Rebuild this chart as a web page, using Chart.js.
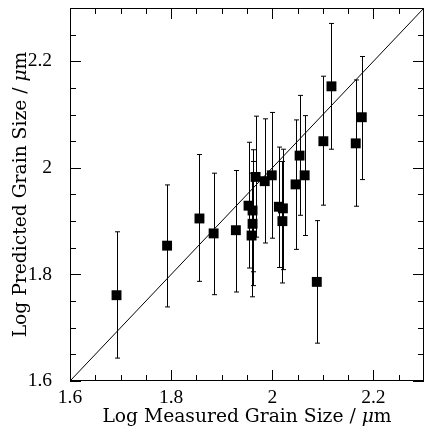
<!DOCTYPE html>
<html>
<head>
<meta charset="utf-8">
<script src="https://cdn.jsdelivr.net/npm/chart.js@4/dist/chart.umd.min.js"></script>
<style>
  html, body { margin: 0; padding: 0; background: #fff; overflow: hidden; }
  canvas { display: block; }
</style>
</head>
<body>
<canvas id="grainChart" width="424" height="428" style="width:424px;height:428px"></canvas>
<script>
// log grain sizes
const measured  = [1.692, 1.792, 1.856, 1.884, 1.928, 1.953, 1.961, 1.961, 1.959, 1.967, 1.985, 1.999, 2.013, 2.021, 2.020, 2.046, 2.054, 2.064, 2.088, 2.101, 2.117, 2.165, 2.177];
const predicted = [1.761, 1.854, 1.905, 1.877, 1.883, 1.929, 1.920, 1.895, 1.873, 1.983, 1.975, 1.986, 1.927, 1.924, 1.900, 1.969, 2.023, 1.986, 1.786, 2.050, 2.153, 2.046, 2.095];
const upperErr  = [1.880, 1.968, 2.025, 1.990, 1.995, 2.048, 2.034, 2.012, 1.990, 2.097, 2.092, 2.104, 2.039, 2.035, 2.012, 2.090, 2.136, 2.098, 1.901, 2.172, 2.271, 2.165, 2.209];
const lowerErr  = [1.643, 1.739, 1.787, 1.762, 1.767, 1.812, 1.805, 1.779, 1.758, 1.870, 1.859, 1.868, 1.813, 1.809, 1.784, 1.847, 1.911, 1.873, 1.671, 1.930, 2.035, 1.928, 1.978];

const oneToOne = [1.6, 2.3];
const majorTicks = [1.6, 1.8, 2.0, 2.2];
const tickLabels = ['1.6', '1.8', '2', '2.2'];
const minorStep = 0.05;
const axisMin = 1.6, axisMax = 2.3;

const TITLE_FONT = '"DejaVu Serif", serif';
const TICK_FONT = '19.5px "Liberation Serif", serif';

const points = measured.map((x, i) => ({ x: x, y: predicted[i] }));
const diag = oneToOne.map(v => ({ x: v, y: v }));

// vertical error bars under the squares
const errorBars = {
  id: 'errorBars',
  beforeDatasetsDraw(chart) {
    const ctx = chart.ctx, xs = chart.scales.x, ys = chart.scales.y;
    ctx.save();
    ctx.strokeStyle = '#000';
    ctx.lineWidth = 1;
    for (let i = 0; i < measured.length; i++) {
      const px = Math.round(xs.getPixelForValue(measured[i])) + 0.5;
      const top = ys.getPixelForValue(upperErr[i]);
      const bot = ys.getPixelForValue(lowerErr[i]);
      ctx.beginPath();
      ctx.moveTo(px, top); ctx.lineTo(px, bot);
      ctx.moveTo(px - 2.5, top); ctx.lineTo(px + 2.5, top);
      ctx.moveTo(px - 2.5, bot); ctx.lineTo(px + 2.5, bot);
      ctx.stroke();
    }
    ctx.restore();
  }
};

// box with inward ticks on every side, tick labels and axis titles
const frame = {
  id: 'frame',
  afterDraw(chart) {
    const ctx = chart.ctx, a = chart.chartArea, xs = chart.scales.x, ys = chart.scales.y;
    ctx.save();
    ctx.strokeStyle = '#000';
    ctx.lineWidth = 1;
    ctx.strokeRect(a.left + 0.5, a.top + 0.5, a.right - a.left - 1, a.bottom - a.top - 1);
    ctx.beginPath();
    const n = Math.round((axisMax - axisMin) / minorStep);
    for (let k = 0; k <= n; k++) {
      const v = axisMin + k * minorStep;
      const major = majorTicks.some(m => Math.abs(m - v) < 1e-6);
      const len = major ? 11 : 6;
      const px = Math.round(xs.getPixelForValue(v)) + 0.5;
      ctx.moveTo(px, a.bottom); ctx.lineTo(px, a.bottom - len);
      ctx.moveTo(px, a.top); ctx.lineTo(px, a.top + len);
      const py = Math.round(ys.getPixelForValue(v)) + 0.5;
      ctx.moveTo(a.left, py); ctx.lineTo(a.left + len, py);
      ctx.moveTo(a.right, py); ctx.lineTo(a.right - len, py);
    }
    ctx.stroke();

    ctx.fillStyle = '#000';
    ctx.font = TICK_FONT;
    ctx.textAlign = 'center';
    ctx.textBaseline = 'alphabetic';
    majorTicks.forEach((v, i) => ctx.fillText(tickLabels[i], xs.getPixelForValue(v), 402.5));
    ctx.textAlign = 'right';
    ctx.textBaseline = 'middle';
    majorTicks.forEach((v, i) => ctx.fillText(tickLabels[i], 52, ys.getPixelForValue(v)));

    ctx.textBaseline = 'alphabetic';
    const drawTitle = (pre, cx, cy, rot) => {
      const f1 = '18.7px ' + TITLE_FONT, f2 = 'italic 18.7px ' + TITLE_FONT;
      ctx.font = f1; const w1 = ctx.measureText(pre).width;
      ctx.font = f2; const w2 = ctx.measureText('\u03bc').width;
      ctx.font = f1; const w3 = ctx.measureText('m').width;
      const total = w1 + w2 + w3;
      ctx.save();
      ctx.translate(cx, cy);
      ctx.rotate(rot);
      const x0 = -total / 2;
      ctx.textAlign = 'left';
      ctx.font = f1; ctx.fillText(pre, x0, 0);
      ctx.font = f2; ctx.fillText('\u03bc', x0 + w1, 0);
      ctx.font = f1; ctx.fillText('m', x0 + w1 + w2, 0);
      ctx.restore();
    };
    drawTitle('Log Measured Grain Size / ', (a.left + a.right) / 2, 422, 0);
    drawTitle('Log Predicted Grain Size / ', 26, (a.top + a.bottom) / 2, -Math.PI / 2);
    ctx.restore();
  }
};

new Chart(document.getElementById('grainChart'), {
  type: 'scatter',
  data: {
    datasets: [{
      data: points,
      pointStyle: 'rect',
      pointRadius: 7,
      pointHoverRadius: 7,
      backgroundColor: '#000',
      borderColor: '#000',
      borderWidth: 0
    }, {
      type: 'line',
      data: diag,
      borderColor: '#000',
      borderWidth: 1,
      pointRadius: 0,
      fill: false
    }]
  },
  options: {
    responsive: false,
    animation: false,
    devicePixelRatio: 1,
    layout: { autoPadding: false, padding: { top: 8, right: 0, left: 70, bottom: 47 } },
    plugins: { legend: { display: false }, tooltip: { enabled: false } },
    scales: {
      x: { type: 'linear', min: axisMin, max: axisMax, display: false },
      y: { type: 'linear', min: axisMin, max: axisMax, display: false }
    }
  },
  plugins: [errorBars, frame]
});
</script>
</body>
</html>
